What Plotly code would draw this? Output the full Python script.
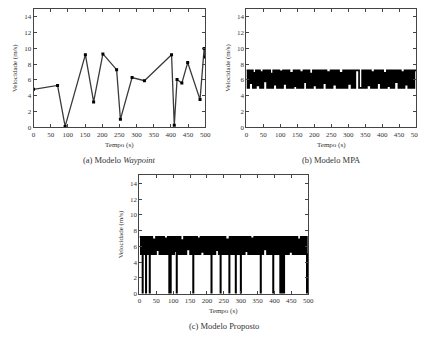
import plotly.graph_objects as go

# ---- data ----
wp_t = [0, 70, 92, 151, 175, 202, 242, 253, 287, 323, 402, 410, 418, 432, 449, 485, 497, 500]
wp_v = [4.8, 5.3, 0.1, 9.2, 3.2, 9.3, 7.3, 1.0, 6.3, 5.9, 9.2, 0.25, 6.05, 5.6, 8.2, 3.5, 10.0, 8.9]

mpa_t = [0, 3, 8, 10, 14, 19, 21, 26, 28, 33,
         37, 40, 43, 48, 50, 55, 58, 61, 66, 70,
         72, 77, 79, 84, 88, 90, 95, 97, 101, 106,
         108, 112, 117, 119, 124, 127, 130, 134, 139, 141,
         146, 149, 152, 157, 160, 163, 168, 170, 175, 178,
         182, 186, 189, 193, 196, 200, 204, 207, 211, 214,
         218, 223, 225, 229, 232, 236, 241, 243, 248, 251,
         254, 259, 262, 266, 269, 273, 277, 280, 285, 288,
         291, 296, 298, 303, 306, 310, 314, 317, 321, 332,
         341, 344, 348, 353, 355, 360, 363, 367, 371, 374,
         378, 382, 385, 389, 392, 396, 400, 403, 407, 411,
         414, 418, 422, 425, 430, 433, 436, 441, 443, 448,
         451, 455, 459, 462, 466, 470, 473, 477, 481, 484,
         489, 492, 495, 500]
mpa_v = [7.2, 5.0, 7.2, 5.6, 7.2, 5.0, 6.9, 5.0, 7.2, 5.3,
         7.2, 5.0, 7.0, 5.0, 7.2, 5.8, 7.2, 5.0, 7.2, 5.0,
         6.8, 5.0, 7.2, 5.4, 7.2, 5.0, 7.2, 5.0, 7.1, 5.0,
         7.2, 5.5, 7.2, 5.0, 7.2, 5.0, 6.9, 5.0, 7.2, 5.2,
         7.2, 5.0, 7.2, 5.0, 7.0, 5.0, 7.2, 5.7, 7.2, 5.0,
         7.2, 5.0, 6.8, 5.0, 7.2, 5.3, 7.2, 5.0, 7.2, 5.0,
         7.2, 5.0, 7.2, 5.6, 7.2, 5.0, 7.0, 5.0, 7.2, 5.0,
         7.2, 5.4, 7.2, 5.0, 7.2, 5.0, 6.9, 5.0, 7.2, 5.0,
         7.2, 5.0, 7.2, 5.5, 7.2, 5.0, 7.2, 5.0, 7.2, 5.0,
         7.2, 5.0, 7.2, 5.0, 7.2, 5.3, 7.2, 5.0, 7.0, 5.0,
         7.2, 5.0, 7.2, 5.6, 7.2, 5.0, 7.2, 5.0, 6.9, 5.0,
         7.2, 5.2, 7.2, 5.0, 7.2, 5.0, 7.2, 5.7, 7.2, 5.0,
         7.2, 5.0, 7.0, 5.0, 7.2, 5.4, 7.2, 5.0, 7.2, 5.0,
         7.2, 5.0, 7.2, 7.2]

pro_t = [0, 4, 7, 9, 10, 14, 17, 19, 20, 24,
         27, 30, 31, 35, 38, 42, 45, 49, 52, 56,
         59, 63, 66, 70, 73, 77, 80, 84, 87, 88,
         89, 92, 93, 96, 100, 103, 107, 110, 111, 115,
         118, 122, 125, 129, 132, 136, 139, 143, 146, 150,
         153, 156, 159, 160, 164, 167, 171, 174, 178, 181,
         185, 188, 192, 195, 199, 202, 206, 209, 213, 214,
         218, 221, 225, 228, 232, 235, 238, 240, 241, 245,
         248, 252, 255, 259, 262, 266, 267, 271, 274, 278,
         281, 285, 286, 290, 293, 297, 300, 301, 305, 308,
         312, 315, 319, 322, 326, 329, 333, 336, 340, 343,
         347, 350, 354, 357, 359, 360, 364, 367, 371, 374,
         378, 381, 385, 388, 392, 394, 396, 397, 401, 404,
         408, 411, 414, 417, 418, 420, 421, 425, 426, 428,
         429, 433, 436, 440, 443, 447, 450, 454, 457, 461,
         464, 468, 471, 475, 478, 482, 485, 489, 492, 496,
         497, 500]
pro_v = [7.2, 5.0, 7.2, 0.0, 5.0, 7.2, 5.3, 0.0, 7.2, 5.0,
         7.2, 0.0, 5.0, 7.2, 5.0, 6.9, 5.0, 7.2, 5.5, 7.2,
         5.0, 7.2, 5.0, 7.2, 5.0, 7.0, 5.0, 7.2, 5.0, 0.0,
         7.2, 0.0, 5.0, 7.2, 5.0, 7.2, 5.4, 0.0, 7.2, 5.0,
         7.2, 5.0, 6.8, 5.0, 7.2, 5.0, 7.2, 5.6, 7.2, 5.0,
         7.2, 5.0, 0.0, 7.2, 5.0, 7.2, 5.0, 7.0, 5.0, 7.2,
         5.3, 7.2, 5.0, 7.2, 5.0, 7.2, 5.0, 7.2, 0.0, 5.0,
         7.2, 5.0, 7.2, 5.5, 7.2, 5.0, 7.2, 0.0, 5.0, 7.2,
         5.0, 7.2, 5.0, 6.9, 5.0, 0.0, 7.2, 5.0, 7.2, 5.0,
         7.2, 0.0, 5.0, 7.2, 5.0, 7.2, 0.0, 5.0, 7.2, 5.0,
         7.2, 5.4, 7.2, 5.0, 7.2, 5.0, 7.0, 5.0, 7.2, 5.0,
         7.2, 5.0, 7.2, 5.0, 0.0, 7.2, 5.0, 7.2, 5.6, 7.2,
         5.0, 7.2, 5.0, 7.2, 5.0, 7.2, 0.0, 5.0, 7.2, 5.0,
         7.2, 5.0, 7.2, 0.0, 5.0, 0.0, 7.2, 0.0, 5.0, 0.0,
         7.2, 5.0, 7.2, 5.0, 7.2, 5.3, 7.2, 5.0, 7.2, 5.0,
         7.2, 5.0, 6.9, 5.0, 7.2, 5.0, 7.2, 5.0, 7.2, 0.0,
         5.0, 5.0]

x_ticks = [0, 50, 100, 150, 200, 250, 300, 350, 400, 450, 500]
y_ticks = [0, 2, 4, 6, 8, 10, 12, 14]
captions = ["(a) Modelo <i>Waypoint</i>", "(b) Modelo MPA", "(c) Modelo Proposto"]
x_title = "Tempo (s)"
y_title = "Velocidade (m/s)"

# ---- layout ----
OFF = 8  # page body margin offset
W, H = 426 - OFF, 337 - OFF
FONT = "Liberation Serif"
TXT = "#333333"
# plot boxes in page pixels: (left, right, top, bottom)
boxes = [(32, 207, 8, 128), (249, 422, 8, 128), (140, 312, 177, 297)]

fig = go.Figure()

fig.add_trace(go.Scatter(x=wp_t, y=wp_v, mode="lines+markers",
                         line=dict(color="#3a3a3a", width=1.3),
                         marker=dict(symbol="square", size=3, color="black"),
                         xaxis="x", yaxis="y", showlegend=False))
fig.add_trace(go.Scatter(x=mpa_t, y=mpa_v, mode="lines", line_shape="hv",
                         line=dict(color="black", width=1.7),
                         xaxis="x2", yaxis="y2", showlegend=False))
fig.add_trace(go.Scatter(x=pro_t, y=pro_v, mode="lines", line_shape="hv",
                         line=dict(color="black", width=1.7),
                         xaxis="x3", yaxis="y3", showlegend=False))

def axis_common():
    return dict(showgrid=False, zeroline=False, showline=True, linecolor="#444444",
                linewidth=1, mirror="allticks", ticks="inside", ticklen=3,
                tickcolor="#444444", tickfont=dict(family=FONT, size=7, color=TXT))

layout = dict(width=W, height=H, margin=dict(l=0, r=0, t=0, b=0),
              paper_bgcolor="white", plot_bgcolor="white",
              font=dict(family=FONT, color=TXT), annotations=[])

def px(x):
    return (x - OFF) / W

def py(y):
    return 1 - (y - OFF) / H

def note(text, x, y, size, angle=0):
    return dict(text=text, x=px(x), y=py(y), xref="paper", yref="paper",
                xanchor="center", yanchor="middle", showarrow=False,
                textangle=angle, font=dict(family=FONT, size=size, color=TXT))

for i, (l, r, t, b) in enumerate(boxes):
    sfx = "" if i == 0 else str(i + 1)
    xa = axis_common()
    xa.update(domain=[px(l), px(r)], range=[0, 500], tickvals=x_ticks,
              anchor="y" + sfx)
    ya = axis_common()
    ya.update(domain=[py(b), py(t)], range=[0, 15], tickvals=y_ticks,
              anchor="x" + sfx)
    layout["xaxis" + sfx] = xa
    layout["yaxis" + sfx] = ya
    cx = (l + r) / 2
    layout["annotations"].append(note(x_title, cx, b + 18, 7))
    layout["annotations"].append(note(y_title, l - 19, (t + b) / 2, 7, -90))
    layout["annotations"].append(note(captions[i], cx, b + 33, 8.5))

fig.update_layout(**layout)
fig.write_html("out.html")
